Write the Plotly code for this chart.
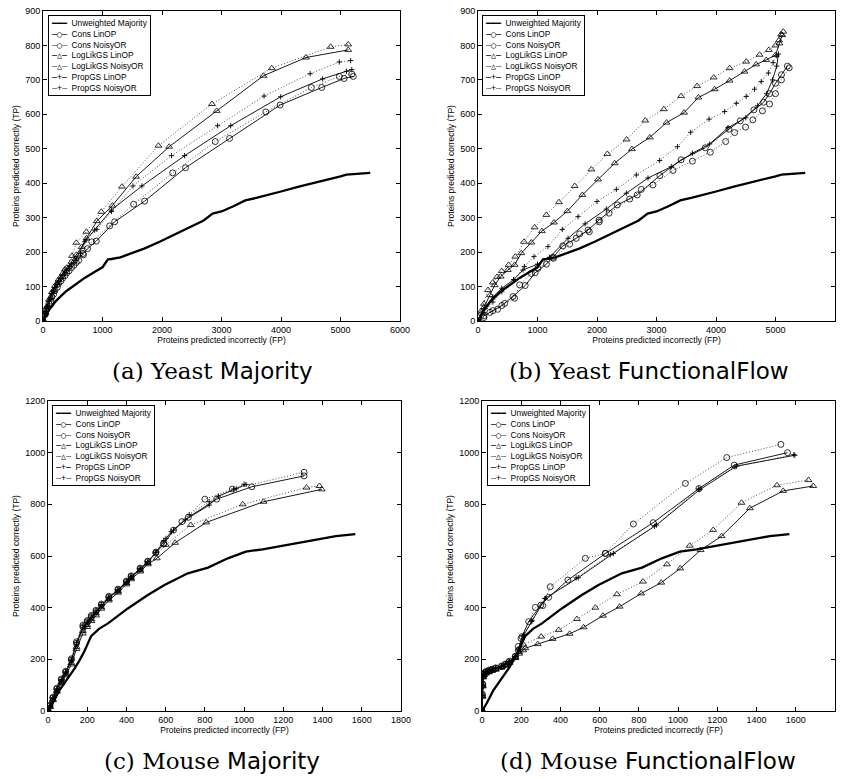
import plotly.graph_objects as go

W, H = 841, 779

SERIES = ["Unweighted Majority", "Cons LinOP", "Cons NoisyOR", "LogLikGS LinOP",
          "LogLikGS NoisyOR", "PropGS LinOP", "PropGS NoisyOR"]

# ---------------- Yeast: Unweighted Majority (shared by a and b) ----------------
yeast_maj_fp = [0, 50, 100, 168, 200, 300, 400, 500, 700, 900, 1000, 1092, 1150, 1300, 1500, 1700, 1960, 2200,
                2500, 2700, 2850, 3000, 3200, 3400, 3600, 3800, 4000, 4300, 4600, 4800, 5000, 5100, 5300, 5500]
yeast_maj_tp = [0, 15, 32, 46, 55, 72, 88, 100, 125, 146, 156, 179, 180, 185, 198, 210, 230, 250,
                275, 292, 312, 318, 333, 350, 358, 368, 376, 390, 402, 412, 420, 425, 427, 430]

# ---------------- (a) Yeast Majority ----------------
a_cons_lin_fp = [0, 30, 60, 100, 150, 200, 260, 330, 400, 480, 560, 672, 750, 896, 1204, 1708, 2395, 3135, 3985, 4685, 5060, 5215]
a_cons_lin_tp = [0, 18, 32, 50, 70, 88, 108, 124, 140, 155, 170, 196, 210, 232, 288, 348, 445, 530, 627, 678, 704, 710]
a_cons_nor_fp = [0, 40, 80, 130, 180, 240, 300, 370, 440, 520, 600, 680, 820, 1120, 1523, 2180, 2895, 3745, 4510, 4980, 5190]
a_cons_nor_tp = [0, 20, 38, 58, 78, 98, 116, 132, 146, 162, 176, 192, 230, 276, 339, 430, 521, 607, 678, 710, 717]
a_ll_lin_fp = [0, 30, 60, 100, 150, 200, 260, 330, 400, 480, 560, 650, 730, 905, 1165, 1565, 2120, 2920, 3705, 4420, 5130]
a_ll_lin_tp = [0, 22, 40, 62, 84, 102, 120, 138, 155, 172, 192, 215, 240, 290, 335, 419, 506, 610, 712, 765, 787]
a_ll_nor_fp = [0, 40, 80, 130, 180, 240, 300, 370, 487, 560, 728, 980, 1327, 1940, 2840, 3845, 4835, 5130]
a_ll_nor_tp = [0, 24, 45, 68, 90, 110, 128, 150, 189, 227, 259, 317, 390, 509, 630, 734, 796, 803]
a_pg_lin_fp = [0, 30, 60, 100, 150, 200, 260, 330, 400, 480, 560, 700, 868, 1148, 1663, 2380, 3155, 3995, 4700, 5100, 5190]
a_pg_lin_tp = [0, 20, 37, 58, 80, 98, 115, 132, 148, 165, 182, 230, 264, 322, 392, 480, 567, 651, 703, 725, 730]
a_pg_nor_fp = [0, 40, 80, 130, 180, 240, 300, 370, 450, 540, 630, 720, 905, 1150, 1512, 2160, 2935, 3715, 4490, 4980, 5170]
a_pg_nor_tp = [0, 22, 42, 64, 87, 106, 122, 140, 158, 176, 196, 235, 266, 318, 392, 480, 567, 653, 718, 752, 756]

# ---------------- (b) Yeast FunctionalFlow ----------------
b_cons_lin_fp = [0, 100, 250, 400, 588, 793, 961, 1150, 1260, 1425, 1650, 1849, 2034, 2342, 2676, 3056, 3413, 3821,
                 4218, 4408, 4637, 4800, 4900, 5000, 5100, 5200]
b_cons_lin_tp = [0, 15, 30, 45, 71, 103, 140, 165, 185, 218, 240, 264, 293, 337, 366, 422, 468, 503,
                 557, 581, 613, 635, 660, 690, 715, 740]
b_cons_nor_fp = [0, 100, 200, 330, 448, 615, 700, 896, 1008, 1268, 1540, 1708, 1871, 2039, 2202, 2549, 2745, 2941,
                 3277, 3603, 3905, 4162, 4313, 4497, 4620, 4780, 4900, 5000, 5100, 5230]
b_cons_nor_tp = [0, 10, 25, 34, 51, 66, 105, 138, 153, 182, 223, 253, 259, 288, 313, 354, 382, 395,
                 437, 464, 490, 521, 547, 563, 584, 610, 630, 660, 700, 735]
b_ll_lin_fp = [0, 50, 100, 200, 280, 381, 500, 616, 728, 896, 1073, 1277, 1501, 1754, 2017, 2297, 2587, 2888,
               3168, 3464, 3704, 3978, 4229, 4480, 4676, 4844, 5000, 5067, 5112]
b_ll_lin_tp = [0, 22, 40, 75, 104, 129, 148, 163, 197, 228, 261, 286, 319, 366, 411, 458, 499, 533,
               576, 605, 649, 673, 698, 724, 745, 758, 772, 806, 830]
b_ll_nor_fp = [0, 50, 100, 168, 250, 320, 400, 515, 627, 773, 952, 1148, 1361, 1625, 1905, 2174, 2497, 2810,
               3123, 3413, 3682, 3961, 4229, 4508, 4732, 4888, 5000, 5060, 5095, 5130]
b_ll_nor_tp = [0, 28, 50, 90, 112, 128, 145, 163, 187, 230, 272, 308, 345, 392, 440, 485, 527, 582,
               615, 653, 682, 707, 734, 753, 773, 787, 800, 815, 832, 840]
b_pg_lin_fp = [0, 100, 250, 400, 600, 756, 1000, 1201, 1513, 1800, 2157, 2493, 2857, 3249, 3603, 3894, 4200,
               4500, 4700, 4850, 4950, 5020, 5050]
b_pg_lin_tp = [0, 35, 70, 95, 120, 148, 165, 185, 240, 282, 325, 371, 415, 448, 487, 514, 561,
               590, 625, 660, 700, 740, 775]
b_pg_nor_fp = [0, 100, 250, 400, 600, 780, 941, 1176, 1417, 1681, 2000, 2325, 2661, 3053, 3352, 3575, 3883,
               4145, 4341, 4508, 4648, 4760, 4880, 4960, 5022]
b_pg_nor_tp = [0, 25, 55, 85, 120, 158, 187, 216, 266, 303, 347, 382, 424, 466, 506, 548, 586,
               608, 632, 652, 673, 695, 720, 750, 770]

# ---------------- Mouse: Unweighted Majority (shared by c and d) ----------------
mouse_maj_fp = [0, 10, 24, 58, 100, 136, 160, 185, 220, 260, 306, 350, 407, 509, 594, 713, 816, 917, 1009,
                1094, 1213, 1315, 1400, 1468, 1567]
mouse_maj_tp = [0, 12, 30, 80, 125, 165, 195, 230, 290, 318, 339, 365, 397, 449, 488, 533, 555, 591, 617,
                626, 643, 655, 668, 677, 685]

# ---------------- (c) Mouse Majority ----------------
c_cons_lin_fp = [0, 10, 25, 45, 68, 90, 119, 145, 178, 200, 221, 245, 272, 310, 357, 400, 424, 470, 509, 550,
                 590, 640, 716, 860, 1039, 1306]
c_cons_lin_tp = [0, 20, 50, 85, 120, 150, 197, 262, 326, 345, 365, 385, 410, 440, 468, 500, 520, 550, 578, 612,
                 646, 700, 750, 820, 868, 910]
c_cons_nor_fp = [0, 10, 25, 45, 68, 90, 119, 145, 178, 200, 221, 245, 272, 310, 357, 400, 424, 470, 509, 550,
                 590, 683, 800, 940, 1306]
c_cons_nor_tp = [0, 22, 53, 88, 124, 154, 202, 268, 332, 350, 370, 390, 414, 444, 472, 503, 523, 553, 580, 615,
                 650, 733, 820, 859, 924]
c_ll_lin_fp = [0, 10, 25, 45, 68, 90, 119, 145, 178, 200, 221, 245, 272, 310, 357, 400, 424, 470, 509, 555,
               648, 807, 1099, 1396]
c_ll_lin_tp = [0, 15, 42, 75, 108, 138, 180, 240, 300, 325, 348, 370, 396, 428, 458, 490, 510, 540, 568, 591,
               651, 730, 810, 858]
c_ll_nor_fp = [0, 10, 25, 45, 68, 90, 119, 145, 178, 200, 221, 245, 272, 310, 357, 400, 424, 470, 509, 601,
               728, 993, 1318, 1384]
c_ll_nor_tp = [0, 17, 45, 78, 112, 142, 186, 248, 310, 333, 355, 378, 402, 433, 463, 495, 515, 545, 573, 643,
               720, 800, 865, 871]
c_pg_lin_fp = [0, 10, 25, 45, 68, 90, 119, 145, 178, 200, 221, 245, 272, 310, 357, 400, 424, 470, 509, 550,
               601, 628, 700, 822, 869, 960, 1010]
c_pg_lin_tp = [0, 19, 48, 84, 118, 148, 195, 258, 322, 342, 362, 382, 408, 438, 466, 498, 518, 548, 576, 615,
               668, 694, 740, 797, 832, 860, 877]
c_pg_nor_fp = [0, 10, 25, 45, 68, 90, 119, 145, 178, 200, 221, 245, 272, 310, 357, 400, 424, 470, 509, 550,
               590, 640, 720, 822, 946, 1000]
c_pg_nor_tp = [0, 21, 51, 86, 122, 152, 200, 265, 330, 348, 368, 388, 412, 442, 470, 502, 522, 552, 579, 613,
               660, 700, 760, 810, 859, 878]

# ---------------- (d) Mouse FunctionalFlow ----------------
d_cons_lin_fp = [0, 2, 4, 6, 10, 20, 35, 51, 70, 100, 120, 140, 170, 185, 204, 238, 300, 340, 438, 630, 873,
                 1106, 1286, 1558]
d_cons_lin_tp = [0, 60, 100, 135, 143, 150, 156, 160, 165, 172, 180, 190, 210, 235, 288, 346, 410, 440, 507, 610,
                 729, 861, 952, 1000]
d_cons_nor_fp = [0, 2, 4, 6, 10, 20, 35, 51, 70, 100, 120, 140, 170, 185, 199, 272, 310, 348, 527, 629, 772,
                 1037, 1248, 1524]
d_cons_nor_tp = [0, 65, 105, 140, 147, 153, 158, 162, 167, 174, 182, 193, 212, 250, 281, 401, 408, 481, 591, 610,
                 724, 881, 981, 1032]
d_ll_lin_fp = [0, 2, 4, 6, 10, 20, 35, 51, 70, 100, 120, 140, 170, 190, 210, 221, 284, 360, 447, 518, 617, 702,
               812, 914, 1011, 1115, 1222, 1366, 1536, 1689]
d_ll_lin_tp = [0, 55, 95, 130, 138, 145, 150, 155, 160, 168, 176, 186, 205, 222, 235, 243, 259, 279, 299, 324,
               369, 404, 455, 497, 552, 623, 677, 785, 852, 871]
d_ll_nor_fp = [0, 2, 4, 6, 10, 20, 35, 51, 70, 100, 120, 140, 170, 190, 211, 302, 391, 484, 578, 688, 821, 943,
               1059, 1179, 1323, 1504, 1665]
d_ll_nor_tp = [0, 58, 98, 132, 140, 147, 152, 157, 162, 170, 178, 188, 207, 228, 257, 288, 314, 356, 400, 452,
               501, 568, 640, 701, 806, 874, 894]
d_pg_lin_fp = [0, 2, 4, 6, 10, 20, 35, 51, 70, 100, 120, 140, 170, 185, 210, 253, 323, 491, 670, 890, 1111,
               1298, 1595]
d_pg_lin_tp = [0, 58, 98, 133, 141, 148, 154, 159, 164, 171, 179, 189, 209, 235, 290, 346, 436, 516, 610, 720,
               857, 948, 990]
d_pg_nor_fp = [0, 2, 4, 6, 10, 20, 35, 51, 70, 100, 120, 140, 170, 185, 215, 255, 320, 480, 655, 880, 1105,
               1290, 1590]
d_pg_nor_tp = [0, 62, 102, 137, 145, 151, 156, 161, 166, 173, 181, 191, 211, 240, 295, 350, 435, 515, 605, 715,
               860, 945, 992]

# axis ticks
yeast_x_ticks = [0, 1000, 2000, 3000, 4000, 5000, 6000]
yeast_y_ticks = [0, 100, 200, 300, 400, 500, 600, 700, 800, 900]
mouse_x_ticks = [0, 200, 400, 600, 800, 1000, 1200, 1400, 1600, 1800]
mouse_y_ticks = [0, 200, 400, 600, 800, 1000, 1200]

panel_data = [
    [(yeast_maj_fp, yeast_maj_tp), (a_cons_lin_fp, a_cons_lin_tp), (a_cons_nor_fp, a_cons_nor_tp),
     (a_ll_lin_fp, a_ll_lin_tp), (a_ll_nor_fp, a_ll_nor_tp), (a_pg_lin_fp, a_pg_lin_tp), (a_pg_nor_fp, a_pg_nor_tp)],
    [(yeast_maj_fp, yeast_maj_tp), (b_cons_lin_fp, b_cons_lin_tp), (b_cons_nor_fp, b_cons_nor_tp),
     (b_ll_lin_fp, b_ll_lin_tp), (b_ll_nor_fp, b_ll_nor_tp), (b_pg_lin_fp, b_pg_lin_tp), (b_pg_nor_fp, b_pg_nor_tp)],
    [(mouse_maj_fp, mouse_maj_tp), (c_cons_lin_fp, c_cons_lin_tp), (c_cons_nor_fp, c_cons_nor_tp),
     (c_ll_lin_fp, c_ll_lin_tp), (c_ll_nor_fp, c_ll_nor_tp), (c_pg_lin_fp, c_pg_lin_tp), (c_pg_nor_fp, c_pg_nor_tp)],
    [(mouse_maj_fp, mouse_maj_tp), (d_cons_lin_fp, d_cons_lin_tp), (d_cons_nor_fp, d_cons_nor_tp),
     (d_ll_lin_fp, d_ll_lin_tp), (d_ll_nor_fp, d_ll_nor_tp), (d_pg_lin_fp, d_pg_lin_tp), (d_pg_nor_fp, d_pg_nor_tp)],
]

captions = [("(a) Yeast ", "Majority"), ("(b) Yeast ", "FunctionalFlow"),
            ("(c) Mouse ", "Majority"), ("(d) Mouse ", "FunctionalFlow")]

# panel geometry in page pixels: left, right, top, bottom
geom = [(43, 400, 11, 321), (478, 835, 11, 321), (48, 401, 401, 711), (482, 835, 401, 711)]
ranges = [((0, 6000), (0, 900)), ((0, 6000), (0, 900)), ((0, 1800), (0, 1200)), ((0, 1800), (0, 1200))]
tickvals = [(yeast_x_ticks, yeast_y_ticks), (yeast_x_ticks, yeast_y_ticks),
            (mouse_x_ticks, mouse_y_ticks), (mouse_x_ticks, mouse_y_ticks)]
caption_pos = [(212, 371), (649, 371), (212, 761), (648, 761)]
legend_pos = [(48, 15), (482, 15), (52, 405), (487, 405)]

DOT = "1px,2px"
styles = [
    dict(mode="lines", line=dict(color="black", width=2.3)),
    dict(mode="lines+markers", line=dict(color="black", width=0.9),
         marker=dict(symbol="circle-open", size=6, color="black", line=dict(width=0.8))),
    dict(mode="lines+markers", line=dict(color="#222222", width=0.8, dash=DOT),
         marker=dict(symbol="circle-open", size=6, color="black", line=dict(width=0.8))),
    dict(mode="lines+markers", line=dict(color="black", width=0.9),
         marker=dict(symbol="triangle-up-open", size=6, color="black", line=dict(width=0.8))),
    dict(mode="lines+markers", line=dict(color="#222222", width=0.8, dash=DOT),
         marker=dict(symbol="triangle-up-open", size=6, color="black", line=dict(width=0.8))),
    dict(mode="lines+markers", line=dict(color="black", width=0.9),
         marker=dict(symbol="cross-thin-open", size=3.8, color="black", line=dict(width=0.9, color="black"))),
    dict(mode="lines+markers", line=dict(color="#222222", width=0.8, dash=DOT),
         marker=dict(symbol="cross-thin-open", size=3.8, color="black", line=dict(width=0.9, color="black"))),
]

MONO = "DejaVu Sans Mono"
legend_samples = ["━━━", "─○─", "┈○┈", "─△─", "┈△┈", "─+─", "┈+┈"]

fig = go.Figure()
layout = dict(width=W, height=H, margin=dict(l=0, r=0, t=0, b=0), paper_bgcolor="white",
              plot_bgcolor="white", showlegend=False, annotations=[])

for p in range(4):
    sfx = "" if p == 0 else str(p + 1)
    for k, (fp, tp) in enumerate(panel_data[p]):
        fig.add_trace(go.Scatter(x=fp, y=tp, name=SERIES[k], xaxis="x" + sfx, yaxis="y" + sfx,
                                 **styles[k]))
    l, r, t, b = geom[p]
    axis_common = dict(showline=True, linecolor="black", linewidth=1, mirror="ticks", ticks="inside",
                       ticklen=4, tickwidth=0.8, tickcolor="black", showgrid=False, zeroline=False,
                       tickfont=dict(family="Liberation Sans", size=9, color="black"), automargin=False)
    layout["xaxis" + sfx] = dict(domain=[l / W, r / W], range=list(ranges[p][0]), tickvals=tickvals[p][0],
                                 anchor="y" + sfx,
                                 title=dict(text="Proteins predicted incorrectly (FP)", standoff=3,
                                            font=dict(family="Liberation Sans", size=8.5, color="black")),
                                 **axis_common)
    layout["yaxis" + sfx] = dict(domain=[1 - b / H, 1 - t / H], range=list(ranges[p][1]), tickvals=tickvals[p][1],
                                 anchor="x" + sfx,
                                 title=dict(text="Proteins predicted correctly (TP)", standoff=4,
                                            font=dict(family="Liberation Sans", size=8.5, color="black")),
                                 **axis_common)
    # caption
    cx, cy = caption_pos[p]
    layout["annotations"].append(dict(
        xref="paper", yref="paper", x=cx / W, y=1 - cy / H, xanchor="center", yanchor="middle",
        showarrow=False,
        text=captions[p][0] + "<span style='font-family:DejaVu Sans'>" + captions[p][1] + "</span>",
        font=dict(family="DejaVu Serif", size=23, color="black")))
    # legend box
    lines = ["<span style='font-family:%s'>%s</span>  %s" % (MONO, legend_samples[k], SERIES[k])
             for k in range(len(SERIES))]
    lx, ly = legend_pos[p]
    layout["annotations"].append(dict(
        xref="paper", yref="paper", x=lx / W, y=1 - ly / H, xanchor="left", yanchor="top",
        showarrow=False, align="left", text="<br>".join(lines),
        font=dict(family="Liberation Sans", size=8.3, color="black"),
        bordercolor="black", borderwidth=1, borderpad=2, bgcolor="white"))

fig.update_layout(**layout)
fig.write_html("out.html", config={"displayModeBar": False},
               post_script="document.body.style.margin='0';document.body.style.overflow='hidden';")
